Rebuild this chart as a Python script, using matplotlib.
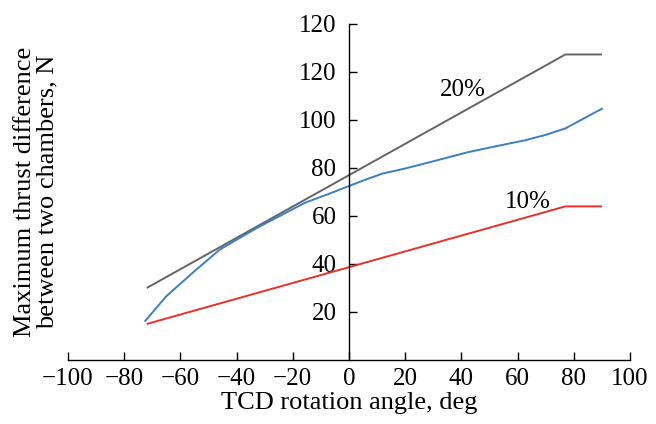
import matplotlib
matplotlib.use("Agg")
import matplotlib.pyplot as plt

plt.rcParams['font.family'] = ['Liberation Serif', 'DejaVu Serif']

# data
x_20 = [-72, 77, 90]
y_20 = [30, 127.3, 127.3]
x_10 = [-72, 77, 90]
y_10 = [15, 64, 64]
x_blue = [-72.5, -65, -55, -46, -33, -24, -15.5, -7, 0, 6, 12, 20, 30, 42, 52, 62.5, 70, 77, 90]
y_blue = [16.3, 26.6, 37, 46, 54.9, 60.4, 65.6, 69.3, 72.5, 75.2, 77.7, 79.8, 82.8, 86.5, 89, 91.5, 93.8, 96.5, 104.7]
xticks = [-100, -80, -60, -40, -20, 0, 20, 40, 60, 80, 100]
yticks = [20, 40, 60, 80, 100, 120, 140]
ytick_labels = ['20', '40', '60', '80', '100', '120', '120']

fig = plt.figure(figsize=(6.56, 4.24), dpi=100)
ax = fig.add_axes([68/656, (424-360)/424, 562/656, 336/424])

ax.plot(x_20, y_20, color='#646464', lw=1.4, solid_capstyle='butt')
ax.plot(x_blue, y_blue, color='#3a7ec6', lw=1.4)
ax.plot(x_10, y_10, color='#e8302a', lw=1.4, solid_capstyle='butt')

ax.set_xlim(-100, 100)
ax.set_ylim(0, 140)
ax.spines['top'].set_visible(False)
ax.spines['right'].set_visible(False)
ax.spines['left'].set_position(('data', 0))
ax.spines['left'].set_linewidth(1.0)
ax.spines['bottom'].set_linewidth(1.0)

ax.set_xticks(xticks)
ax.set_yticks(yticks)
ax.set_yticklabels(ytick_labels)
ax.tick_params(axis='both', direction='in', length=6, width=1.0, labelsize=18)
ax.tick_params(axis='y', pad=9)
ax.tick_params(axis='x', pad=6)

ax.text(40.5, 112.5, '20%', fontsize=18, ha='center', va='center')
ax.text(63.5, 66, '10%', fontsize=18, ha='center', va='center')

ax.set_xlabel('TCD rotation angle, deg', fontsize=19, labelpad=1)
fig.text(36/656, 1 - 192/424, 'Maximum thrust difference\nbetween two chambers, N',
         rotation=90, ha='center', va='center', fontsize=19, multialignment='center',
         linespacing=1.05)

fig.savefig('out.png', dpi=100)
